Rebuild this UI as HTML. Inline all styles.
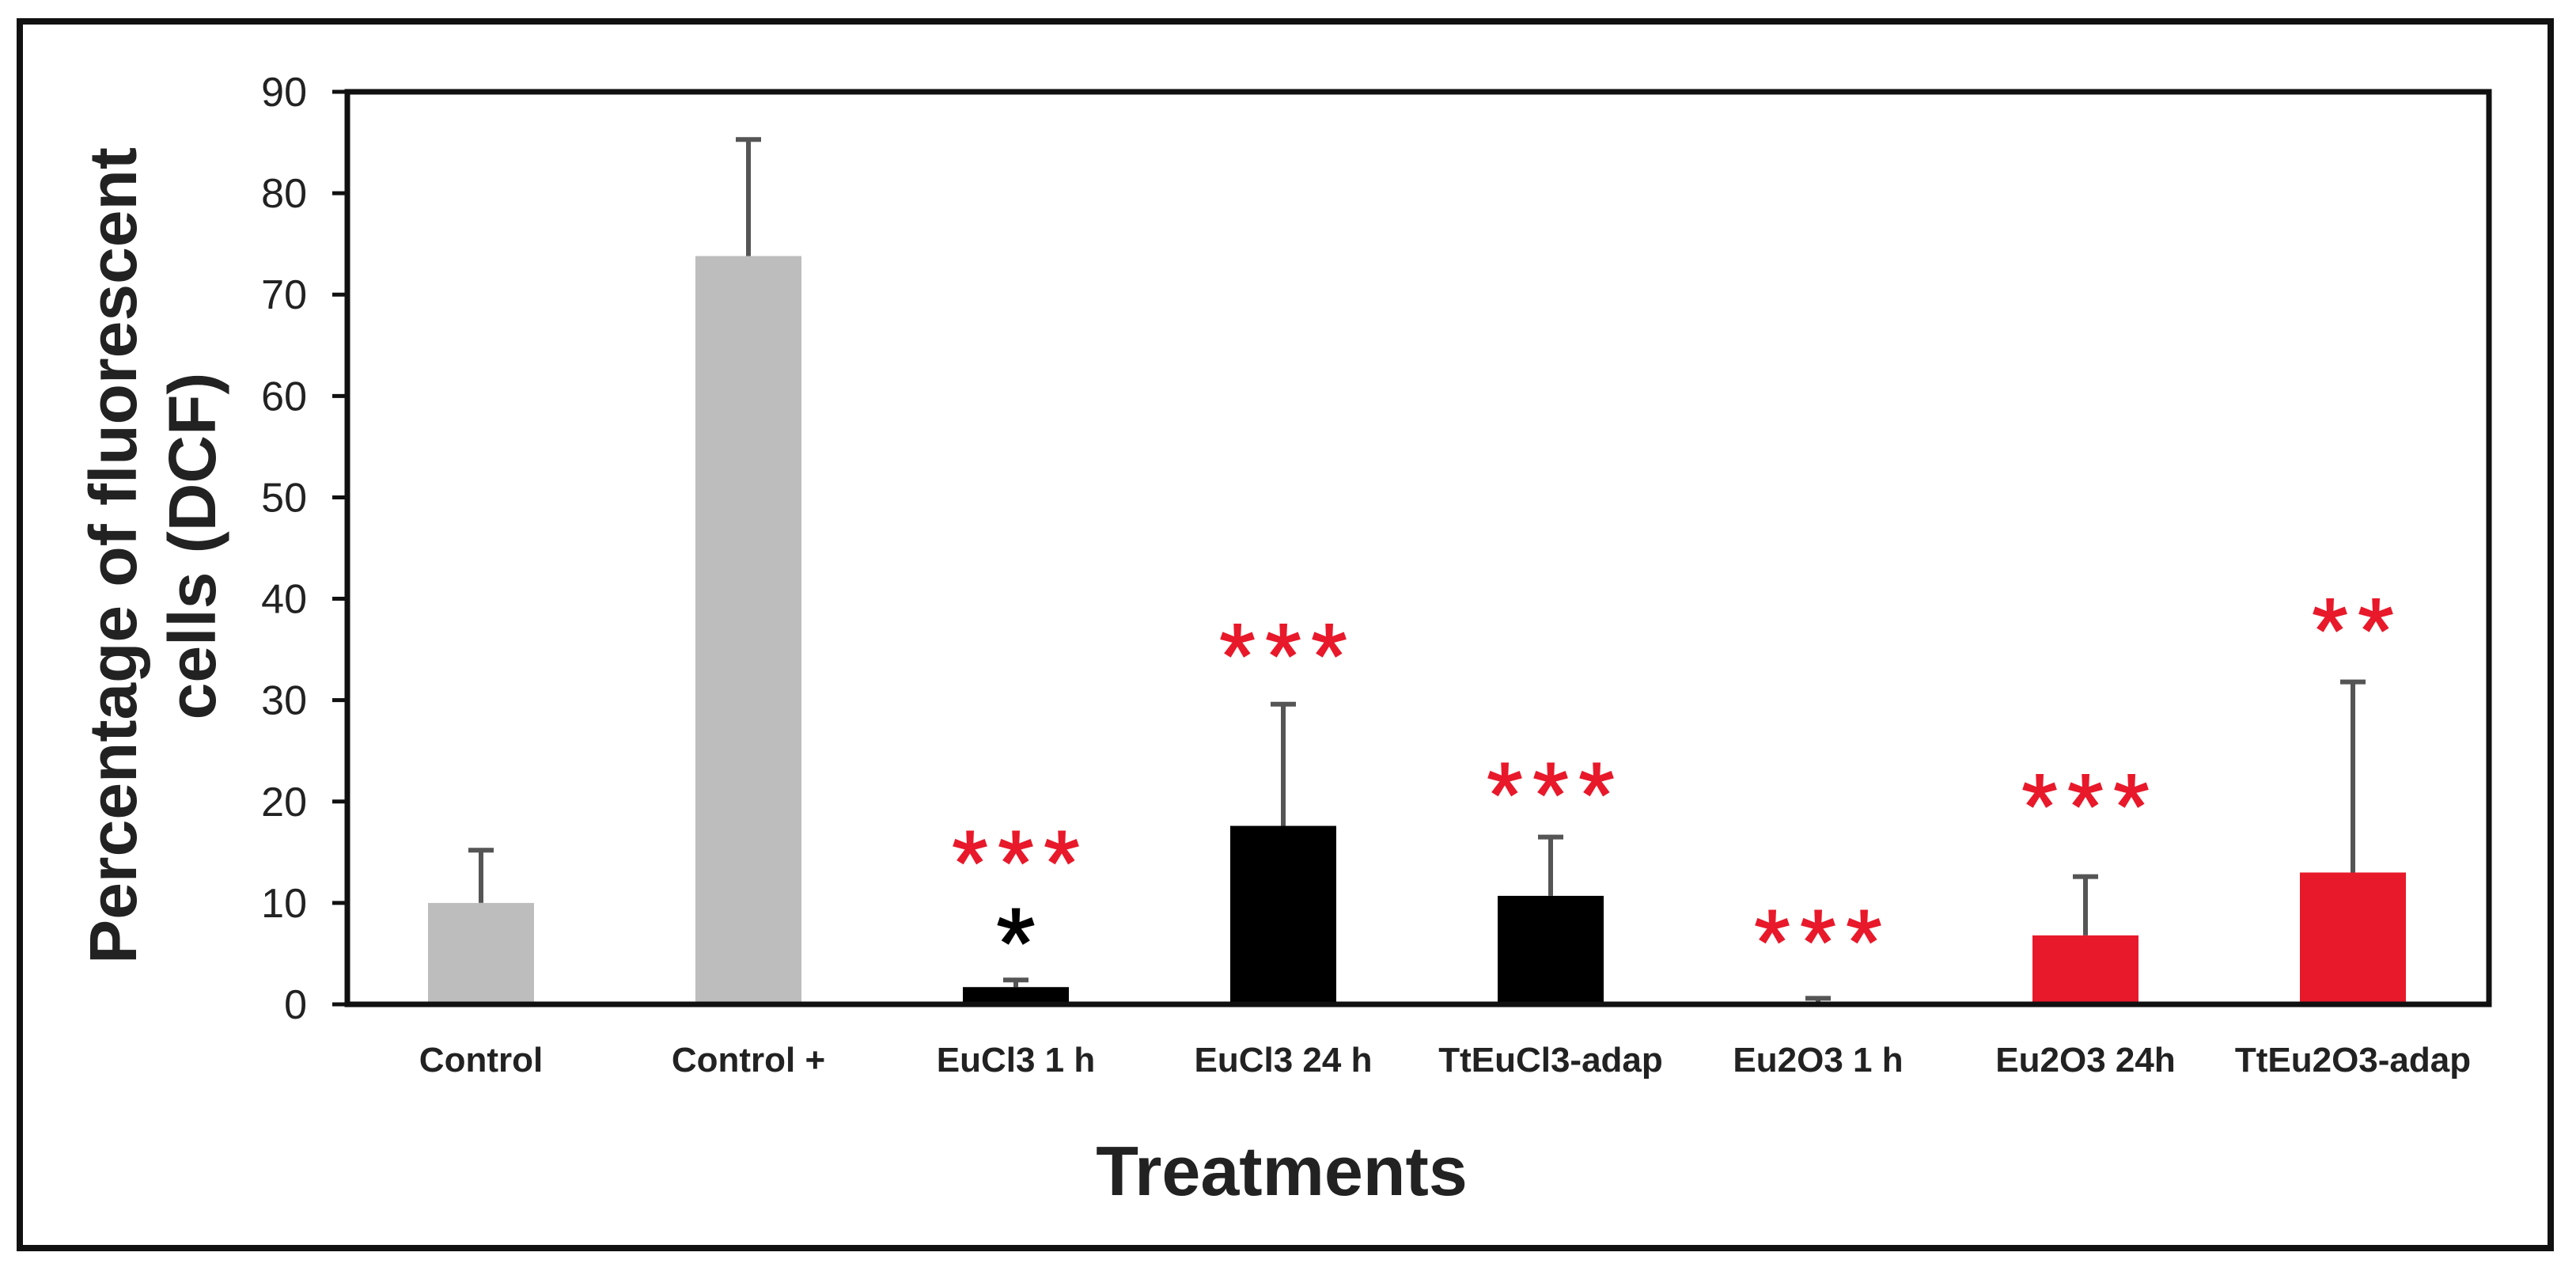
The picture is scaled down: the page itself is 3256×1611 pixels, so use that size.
<!DOCTYPE html>
<html><head><meta charset="utf-8"><style>
html,body{margin:0;padding:0;background:#fff;}
svg{display:block;}
text{font-family:"Liberation Sans",Arial,sans-serif;}
</style></head><body>
<svg id="chart" width="3256" height="1611" viewBox="0 0 3256 1611" xmlns="http://www.w3.org/2000/svg">
<rect x="25" y="27" width="3199" height="1550" fill="#fff" stroke="#111" stroke-width="8"/>
<g id="plot"></g>
</svg>
<script>
const categories = ["Control","Control +","EuCl3 1 h","EuCl3 24 h","TtEuCl3-adap","Eu2O3 1 h","Eu2O3 24h","TtEu2O3-adap"];
const values = [10.0, 73.8, 1.7, 17.6, 10.7, 0.2, 6.8, 13.0];
const errors = [15.2, 85.3, 2.4, 29.6, 16.5, 0.6, 12.6, 31.8];
const colors = ["#bdbdbd","#bdbdbd","#000","#000","#000","#c9d3dc","#e8192a","#e8192a"];
const redStars = [0,0,3,3,3,3,3,2];
const redStarY = [0,0,16.0,36.4,22.7,8.2,21.6,38.9];
const blackStars = [0,0,1,0,0,0,0,0];
const blackStarY = [0,0,8.1,0,0,0,0,0];
const yTicks = [0,10,20,30,40,50,60,70,80,90];

const NS="http://www.w3.org/2000/svg";
const g=document.getElementById('plot');
const X0=439, X1=3146, Y0=1269, Y1=116, YMAX=90;
const y=v=>Y0-(Y0-Y1)*v/YMAX;
const xc=i=>608+338*i;
const BW=134;
function el(t,a,txt){const e=document.createElementNS(NS,t);for(const k in a)e.setAttribute(k,a[k]);if(txt!==undefined)e.textContent=txt;g.appendChild(e);return e;}

yTicks.forEach(t=>{
  const l=el('line',{x1:420,x2:X0,y1:y(t),y2:y(t),stroke:'#111','stroke-width':5});
  
  
  const tx=el('text',{x:388,y:y(t)+18,'text-anchor':'end','font-size':52,fill:'#222'},String(t));
  
  
});

categories.forEach((c,i)=>{
  const cx=xc(i);
  const e1=el('line',{x1:cx,x2:cx,y1:y(values[i]),y2:y(errors[i]),stroke:'#555','stroke-width':6});
  
  
  const e2=el('line',{x1:cx-16,x2:cx+16,y1:y(errors[i]),y2:y(errors[i]),stroke:'#555','stroke-width':6});
  
  
  const b=el('rect',{x:cx-BW/2,y:y(values[i]),width:BW,height:Y0-y(values[i]),fill:colors[i]});
  
  
  const lb=el('text',{x:cx,y:1354,'text-anchor':'middle','font-size':44,'font-weight':'bold',fill:'#222'},c);
  
  
  for(let k=0;k<redStars[i];k++){
    const sx=cx+(k-(redStars[i]-1)/2)*58;
    const s=el('text',{x:sx,y:y(redStarY[i])+66,'text-anchor':'middle','font-size':115,fill:'#e8192a',stroke:'#e8192a','stroke-width':2},'*');
    
    
  }
  for(let k=0;k<blackStars[i];k++){
    const s=el('text',{x:cx,y:y(blackStarY[i])+70,'text-anchor':'middle','font-size':125,fill:'#000',stroke:'#000','stroke-width':2},'*');
    
    
  }
});

const frame=el('rect',{x:X0,y:Y1,width:X1-X0,height:Y0-Y1,fill:'none',stroke:'#111','stroke-width':7});



const t1=el('text',{x:0,y:0,'text-anchor':'middle','font-size':84,'font-weight':'bold',fill:'#222',transform:'translate(172,702) rotate(-90)'},'Percentage of fluorescent');


const t2=el('text',{x:0,y:0,'text-anchor':'middle','font-size':84,'font-weight':'bold',fill:'#222',transform:'translate(272,690) rotate(-90)'},'cells (DCF)');


const xt=el('text',{x:1620,y:1510,'text-anchor':'middle','font-size':88,'font-weight':'bold',fill:'#222'},'Treatments');


</script>
</body></html>
